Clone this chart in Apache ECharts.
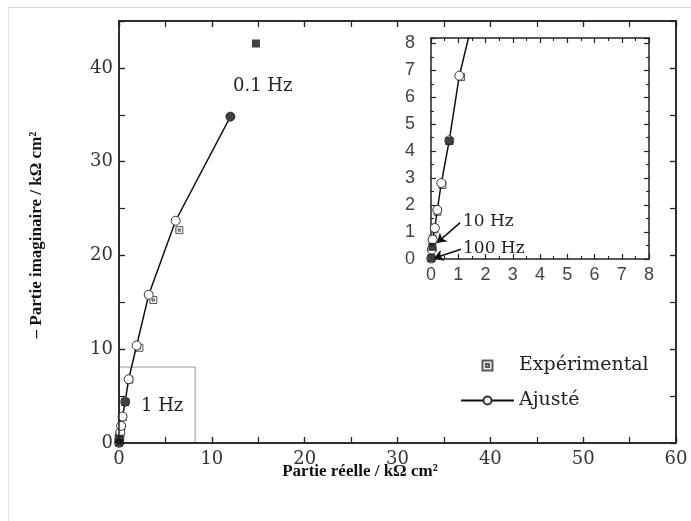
<!DOCTYPE html>
<html>
<head>
<meta charset="utf-8">
<script src="https://cdn.jsdelivr.net/npm/echarts@6/dist/echarts.min.js"></script>
<style>
html,body{margin:0;padding:0;background:#fff;}
#c,#o{width:691px;height:521px;position:absolute;left:0;top:0;}
#o{pointer-events:none;}
#f{position:absolute;left:8px;top:7px;width:700px;height:600px;border-top:1px solid #d6d6d6;border-left:1px solid #e2e2e2;pointer-events:none;}
</style>
</head>
<body>
<div id="c"></div>
<div id="o"></div>
<div id="f"></div>
<script>
// Experimental (open squares)
const expX = [0.06, 0.13, 0.24, 0.42, 1.1, 2.2, 3.7, 6.5];
const expY = [0.75, 1.1, 1.75, 2.75, 6.75, 10.15, 15.25, 22.7];
// Experimental decade frequencies (100 Hz, 10 Hz, 1 Hz, 0.1 Hz) - filled squares
const expDecX = [0.01, 0.05, 0.67, 14.75];
const expDecY = [0.03, 0.45, 4.38, 42.6];
// Fitted (Ajusté)
const fitX = [0.01, 0.03, 0.06, 0.14, 0.23, 0.38, 0.67, 1.04, 1.9, 3.2, 6.1, 12.0];
const fitY = [0.02, 0.35, 0.72, 1.15, 1.82, 2.82, 4.4, 6.8, 10.4, 15.8, 23.7, 34.8];
// Fitted 0.1 Hz point - filled circle
const fitDecX = [12.0];
const fitDecY = [34.8];
// Zoomed region shown in inset (x, y extent)
const zoomBox = [8.2, 8.1];

const pair = (xs, ys) => xs.map((x, i) => [x, ys[i]]);
const expData = pair(expX, expY);
const expDecData = pair(expDecX, expDecY);
const fitData = pair(fitX, fitY);
const fitDecData = pair(fitDecX, fitDecY);
const boxData = [[0, zoomBox[1]], [zoomBox[0], zoomBox[1]], [zoomBox[0], 0]];

const serif = 'DejaVu Serif';
const sans = 'Liberation Sans';
const sqSym = 'path://M0,0H10V10H0Z M3.5,3.5H6.5V6.5H3.5Z';

function axis(pos, show, grid, minorLen, tickLen, font) {
  return {
    type: 'value', position: pos, gridIndex: grid,
    axisLine: {show: true, onZero: false, lineStyle: {color: '#222', width: 1.5}},
    axisTick: {show: true, inside: true, length: tickLen, lineStyle: {color: '#222', width: 1.2}},
    minorTick: {show: true, splitNumber: 2, length: minorLen, lineStyle: {color: '#222', width: 1.1}},
    splitLine: {show: false},
    axisLabel: {show: show, fontFamily: font, fontSize: 18, color: '#333', margin: 7}
  };
}

const mainGrid = {left: 119, top: 21, width: 557, height: 422};
const insetGrid = {left: 431, top: 38, width: 218, height: 221};

const xMain = Object.assign(axis('bottom', true, 0, 6, 6, serif), {min: 0, max: 60, interval: 10});
const xMainTop = Object.assign(axis('top', false, 0, 6, 6, serif), {min: 0, max: 60, interval: 10});
const yMain = Object.assign(axis('left', true, 0, 6, 6, serif), {min: 0, max: 45, interval: 10});
const yMainRight = Object.assign(axis('right', false, 0, 6, 6, serif), {min: 0, max: 45, interval: 10});
yMain.axisLabel.margin = 6;
yMain.axisLabel.showMaxLabel = false;

const xIn = Object.assign(axis('bottom', true, 1, 3, 5, sans), {min: 0, max: 8, interval: 1});
const xInTop = Object.assign(axis('top', false, 1, 3, 5, sans), {min: 0, max: 8, interval: 1});
const yIn = Object.assign(axis('left', true, 1, 3, 5, sans), {min: 0, max: 8.2, interval: 1});
const yInRight = Object.assign(axis('right', false, 1, 3, 5, sans), {min: 0, max: 8.2, interval: 1});
xIn.axisLabel.color = '#444';
yIn.axisLabel.color = '#444';
yIn.axisLabel.margin = 16;
yIn.axisLabel.showMaxLabel = false;

function seriesSet(xi, yi, extra) {
  return [
    {
      name: 'Expérimental', type: 'scatter', xAxisIndex: xi, yAxisIndex: yi,
      data: expData, symbol: sqSym, symbolSize: 7,
      itemStyle: {color: '#e6e6e6', borderColor: '#333', borderWidth: 1}, z: 3
    },
    Object.assign({
      name: 'Ajusté', type: 'line', xAxisIndex: xi, yAxisIndex: yi,
      data: fitData, symbol: 'circle', symbolSize: 9,
      lineStyle: {color: '#111', width: 1.5},
      itemStyle: {color: '#fff', borderColor: '#333', borderWidth: 1}, z: 4
    }, extra || {}),
    {
      name: 'Expérimental (décades)', type: 'scatter', xAxisIndex: xi, yAxisIndex: yi,
      data: expDecData, symbol: 'rect', symbolSize: 8,
      itemStyle: {color: '#111'}, z: 5
    },
    {
      name: 'Ajusté (décades)', type: 'scatter', xAxisIndex: xi, yAxisIndex: yi,
      data: fitDecData, symbol: 'circle', symbolSize: 9,
      itemStyle: {color: '#111'}, z: 5
    }
  ];
}

const mainSeries = seriesSet(0, 0);
mainSeries.unshift({
  name: 'Zone agrandie', type: 'line', xAxisIndex: 0, yAxisIndex: 0,
  data: boxData, symbol: 'none', lineStyle: {color: '#999', width: 1}, silent: true, z: 1
});
const insetSeries = seriesSet(2, 2, {
  markLine: {
    silent: true, symbol: ['none', 'arrow'], symbolSize: 9,
    label: {show: false},
    lineStyle: {color: '#111', width: 1.5, type: 'solid'},
    data: [
      [{coord: [1.07, 1.35]}, {coord: [0.22, 0.6]}],
      [{coord: [1.1, 0.36]}, {coord: [0.11, 0.03]}]
    ]
  }
});

// Main chart: data, labels, legend, inset
const chart = echarts.init(document.getElementById('c'));
chart.setOption({
  animation: false,
  grid: [mainGrid, insetGrid],
  xAxis: [xMain, xMainTop, xIn, xInTop],
  yAxis: [yMain, yMainRight, yIn, yInRight],
  legend: {
    data: ['Expérimental', 'Ajusté'],
    orient: 'vertical', left: 460, top: 356, padding: 0,
    itemWidth: 53, itemHeight: 10, itemGap: 16,
    textStyle: {fontFamily: serif, fontSize: 19, color: '#222'}
  },
  series: mainSeries.concat(insetSeries),
  graphic: [
    {type: 'text', style: {text: '0.1 Hz', x: 233, y: 86, verticalAlign: 'middle', font: '18px "DejaVu Serif"', fill: '#222'}},
    {type: 'text', style: {text: '1 Hz', x: 141, y: 406, verticalAlign: 'middle', font: '18px "DejaVu Serif"', fill: '#222'}},
    {type: 'text', z: 10, style: {text: '10 Hz', x: 463, y: 222, verticalAlign: 'middle', font: '17px "DejaVu Serif"', fill: '#222'}},
    {type: 'text', z: 10, style: {text: '100 Hz', x: 463, y: 249, verticalAlign: 'middle', font: '17px "DejaVu Serif"', fill: '#222'}},
    {type: 'text', style: {text: 'Partie réelle / kΩ cm²', x: 360, y: 472, align: 'center', verticalAlign: 'middle', font: 'bold 17px "Liberation Serif"', fill: '#111'}},
    {type: 'text', rotation: Math.PI / 2, x: 37, y: 235, style: {text: '– Partie imaginaire / kΩ cm²', x: 0, y: 0, align: 'center', verticalAlign: 'middle', font: 'bold 17px "Liberation Serif"', fill: '#111'}}
  ]
});

// Overlay: main plot frame with inward ticks on all four sides (same scales)
function frameAxis(pos, min, max) {
  const a = Object.assign(axis(pos, false, 0, 6, 6, serif), {min: min, max: max, interval: 10});
  return a;
}
const overlay = echarts.init(document.getElementById('o'));
overlay.setOption({
  animation: false,
  grid: [mainGrid],
  xAxis: [frameAxis('bottom', 0, 60), frameAxis('top', 0, 60)],
  yAxis: [frameAxis('left', 0, 45), frameAxis('right', 0, 45)],
  series: []
});
</script>
</body>
</html>
